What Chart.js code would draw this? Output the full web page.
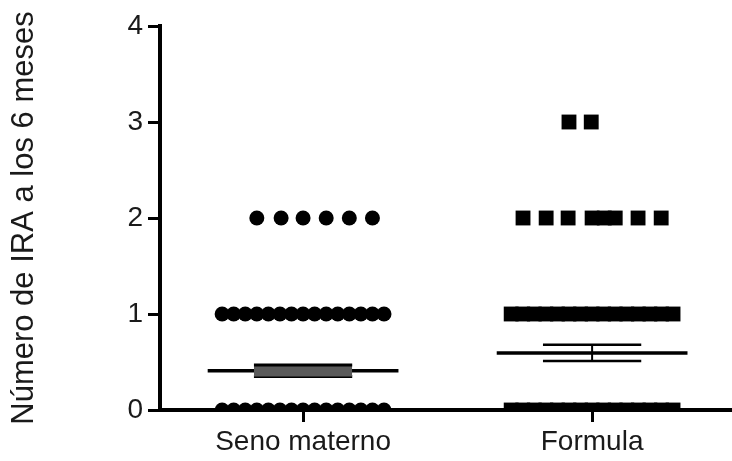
<!DOCTYPE html>
<html>
<head>
<meta charset="utf-8">
<script src="https://cdn.jsdelivr.net/npm/chart.js@4/dist/chart.umd.min.js"></script>
<style>
html,body{margin:0;padding:0;background:#fff;}
#wrap{width:732px;height:461px;}
</style>
</head>
<body>
<div id="wrap"><canvas id="c" width="732" height="461"></canvas></div>
<script>
// Categories and axis text
const categories = ['Seno materno', 'Formula'];
const yTitle = 'Número de IRA a los 6 meses';
const yTickValues = [0, 1, 2, 3, 4];

// Seno materno: individual values (IRA count) and their scatter x positions
const senoIRA = [0,0,0,0,0,0,0,0,0,0,0,0,0,0,0,
                 1,1,1,1,1,1,1,1,1,1,1,1,1,1,1,
                 2,2,2,2,2,2];
const senoX   = [0.72,0.76,0.80,0.84,0.88,0.92,0.96,1.00,1.04,1.08,1.12,1.16,1.20,1.24,1.28,
                 0.72,0.76,0.80,0.84,0.88,0.92,0.96,1.00,1.04,1.08,1.12,1.16,1.20,1.24,1.28,
                 0.84,0.924,1.00,1.08,1.16,1.24];

// Formula: individual values and scatter x positions
const formulaIRA = [0,0,0,0,0,0,0,0,0,0,0,0,0,0,0,
                    1,1,1,1,1,1,1,1,1,1,1,1,1,1,1,
                    2,2,2,2,2,2,2,2,
                    3,3];
const formulaX   = [1.72,1.76,1.80,1.84,1.88,1.92,1.96,2.00,2.04,2.08,2.12,2.16,2.20,2.24,2.28,
                    1.72,1.76,1.80,1.84,1.88,1.92,1.96,2.00,2.04,2.08,2.12,2.16,2.20,2.24,2.28,
                    1.761,1.841,1.917,2.00,2.042,2.08,2.159,2.239,
                    1.92,1.997];

// Mean and SEM per group
const means = [0.41, 0.595];
const sems  = [0.06, 0.085];

const pts = (xs, ys) => xs.map((x, i) => ({x: x, y: ys[i]}));
const seg = (x0, x1, y0, y1, w, extra) => Object.assign({
  type: 'line',
  data: [{x: x0, y: y0}, {x: x1, y: y1}],
  borderColor: '#000',
  borderWidth: w,
  pointRadius: 0,
  showLine: true,
  fill: false,
  borderCapStyle: 'butt'
}, extra || {});

const datasets = [
  {
    type: 'scatter',
    data: pts(senoX, senoIRA),
    pointStyle: 'circle',
    pointRadius: 7.5,
    backgroundColor: '#000',
    borderWidth: 0
  },
  {
    type: 'scatter',
    data: pts(formulaX, formulaIRA),
    pointStyle: 'rect',
    pointRadius: 10.5,
    backgroundColor: '#000',
    borderWidth: 0
  }
];

means.forEach((m, i) => {
  const c = i + 1;
  const capW = i === 0 ? 3 : 2.5;
  const fillBand = i === 0 ? {fill: '+1', backgroundColor: '#5a5a5a'} : {};
  datasets.push(seg(c - 0.17, c + 0.17, m + sems[i], m + sems[i], capW, fillBand));
  datasets.push(seg(c - 0.17, c + 0.17, m - sems[i], m - sems[i], capW));
  datasets.push(seg(c, c, m - sems[i], m + sems[i], 2));
  datasets.push(seg(c - 0.33, c + 0.33, m, m, 3.5));
});

const font = {family: "'Liberation Sans', Arial, sans-serif", size: 28};

new Chart(document.getElementById('c'), {
  type: 'scatter',
  data: {datasets: datasets},
  options: {
    responsive: false,
    animation: false,
    events: [],
    layout: {autoPadding: false, padding: {top: 26, right: 0, left: 0, bottom: 0}},
    plugins: {legend: {display: false}, tooltip: {enabled: false}, filler: {propagate: false}},
    scales: {
      x: {
        type: 'linear',
        min: 0.505,
        max: 2.484,
        afterBuildTicks: (s) => { s.ticks = categories.map((_, i) => ({value: i + 1})); },
        afterFit: (s) => { s.height = 51; },
        ticks: {
          font: font,
          color: '#1a1a1a',
          padding: 3,
          maxRotation: 0,
          autoSkip: false,
          callback: (v) => categories[Math.round(v) - 1] || ''
        },
        grid: {drawOnChartArea: false, drawTicks: true, tickLength: 12, color: '#000', lineWidth: 3},
        border: {display: true, color: '#000', width: 4}
      },
      y: {
        type: 'linear',
        min: 0,
        max: 4,
        afterBuildTicks: (s) => { s.ticks = yTickValues.map(v => ({value: v})); },
        afterFit: (s) => { s.width = 160; },
        ticks: {font: font, color: '#1a1a1a', padding: 5, stepSize: 1},
        grid: {drawOnChartArea: false, drawTicks: true, tickLength: 12, color: '#000', lineWidth: 3},
        border: {display: true, color: '#000', width: 4},
        title: {display: true, text: yTitle, font: {family: "'Liberation Sans', Arial, sans-serif", size: 31}, color: '#1a1a1a', padding: {top: 6, bottom: 0}}
      }
    }
  }
});
</script>
</body>
</html>
